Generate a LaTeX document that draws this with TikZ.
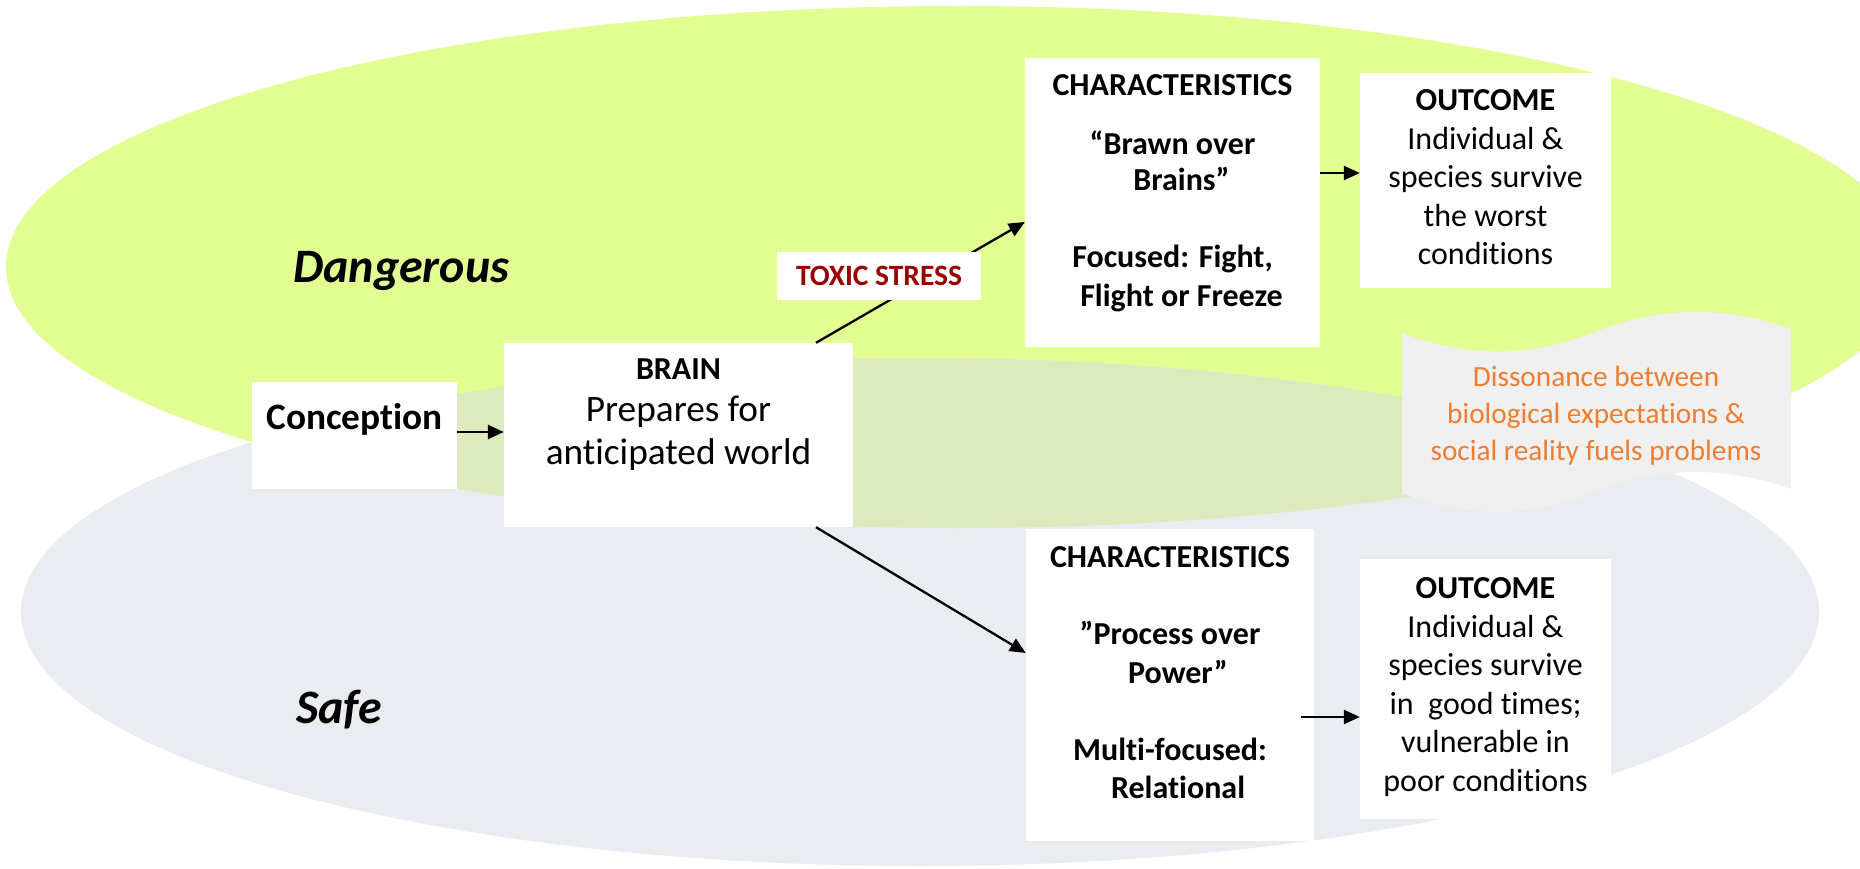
\documentclass[tikz,border=0pt]{standalone}
\usepackage{fontspec}
\setmainfont{Carlito}[Ligatures=NoCommon]
\usetikzlibrary{arrows.meta}
\definecolor{dgreen}{RGB}{226,253,146}
\definecolor{sgray}{RGB}{233,236,241}
\definecolor{ovl}{RGB}{221,234,190}
\definecolor{scrollfill}{RGB}{240,240,240}
\definecolor{orangetxt}{RGB}{237,125,49}
\definecolor{toxred}{RGB}{154,0,0}
\tikzset{
  box/.style={fill=white, draw=none, inner sep=0pt},
  txt/.style={inner sep=0pt, align=center},
  arr/.style={-{Triangle[length=16pt,width=14pt]}, line width=2.3pt, black},
  big/.style={font=\fontsize{32pt}{38.5pt}\selectfont},
  bigb/.style={font=\fontsize{32pt}{38.5pt}\selectfont\bfseries},
}
\begin{document}
\begin{tikzpicture}[x=1pt,y=-1pt]
\useasboundingbox (0,0) rectangle (1860,869);
\fill[white] (0,0) rectangle (1860,869);
% ellipses
\fill[dgreen] (958,267) ellipse [x radius=952pt, y radius=261pt];
\fill[sgray] (920,612) ellipse [x radius=899pt, y radius=254pt];
\begin{scope}
  \clip (958,267) ellipse [x radius=952pt, y radius=261pt];
  \fill[ovl] (920,612) ellipse [x radius=899pt, y radius=254pt];
\end{scope}
% region labels
\node[txt, anchor=base west, font=\fontsize{48pt}{56pt}\selectfont\bfseries\itshape] (dang) at (293,282) {Dangerous};
\node[txt, anchor=base west, font=\fontsize{48pt}{56pt}\selectfont\bfseries\itshape] (safe) at (296,723) {Safe};
% scroll
\fill[scrollfill] (1402,333) .. controls (1467,358) and (1532,358) .. (1597,331)
  .. controls (1662,306) and (1726,306) .. (1791,329) -- (1791,489)
  .. controls (1726,466) and (1662,466) .. (1597,491)
  .. controls (1532,518) and (1467,518) .. (1402,493) -- cycle;
\node[txt, anchor=north, text=orangetxt, font=\fontsize{29.3pt}{37pt}\selectfont] (diss) at (1596,366)
  {Dissonance between\\ biological expectations \&\\ social reality fuels problems};
% boxes
\node[box, minimum width=205pt, minimum height=107pt] (conc) at (354.5,435.5) {};
\node[box, minimum width=349pt, minimum height=184pt] (brain) at (678.5,435) {};
\node[box, minimum width=295pt, minimum height=289pt] (charT) at (1172.5,202.5) {};
\node[box, minimum width=251pt, minimum height=215pt] (outT) at (1485.5,180.5) {};
\node[box, minimum width=288pt, minimum height=312pt] (charB) at (1170,685) {};
\node[box, minimum width=251pt, minimum height=260pt] (outB) at (1485.5,689) {};
% connectors
\draw[arr] ([yshift=3.5pt]conc.east) -- ([yshift=3.5pt]conc.east -| brain.west);
\draw[arr] ([xshift=137.5pt]brain.north) -- ([yshift=-19.5pt]charT.west);
\draw[arr] ([xshift=137.5pt]brain.south) -- ([yshift=32pt]charB.west);
\draw[arr] ([yshift=29.5pt]charT.east) -- ([yshift=29.5pt]charT.east -| outT.west);
\draw[arr] ([xshift=-13pt,yshift=-32pt]charB.east) -- ([yshift=-32pt]charB.east -| outB.west);
% toxic stress label
\node[box, minimum width=204pt, minimum height=48pt] (toxbox) at (879,276) {};
\node[txt, anchor=base, text=toxred, font=\fontsize{29.5pt}{35pt}\selectfont\bfseries] (tox) at (879,285) {TOXIC STRESS};
% texts
\node[txt, anchor=base, font=\fontsize{37.3pt}{44.8pt}\selectfont\bfseries] (conct) at (354.5,429) {Conception};
\node[txt, anchor=north, font=\fontsize{37.3pt}{42.5pt}\selectfont] (braint) at (678.5,358.5)
  {{\fontsize{32pt}{42.5pt}\selectfont\bfseries BRAIN}\\ Prepares for\\ anticipated world};
\node[txt, anchor=north, bigb] (charTt) at (1172.5,74.5)
  {CHARACTERISTICS\\[20pt] “Brawn over\\[-2pt] \hspace*{18pt}Brains”\\[38.5pt] Focused: Fight,\\ \hspace*{18pt}Flight or Freeze};
\node[txt, anchor=north, big] (outTt) at (1485.5,89.5)
  {\textbf{OUTCOME}\\ Individual \&\\ species survive\\ the worst\\ conditions};
\node[txt, anchor=north, bigb] (charBt) at (1170,546.5)
  {CHARACTERISTICS\\[38.5pt] ”Process over\\ \hspace*{16pt}Power”\\[38.5pt] Multi-focused:\\ \hspace*{16pt}Relational};
\node[txt, anchor=north, big] (outBt) at (1485.5,577.5)
  {\textbf{OUTCOME}\\ Individual \&\\ species survive\\ in\ \ good times;\\ vulnerable in\\ poor conditions};
\end{tikzpicture}
\end{document}
